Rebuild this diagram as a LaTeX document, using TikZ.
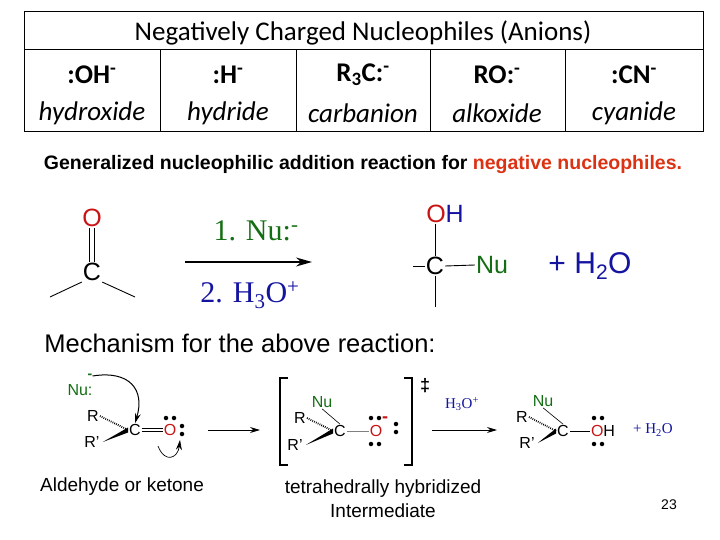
\documentclass[tikz,border=0pt]{standalone}
\usepackage{fontspec}
\setmainfont{Liberation Sans}
\newfontfamily\calfnt{Carlito}
\newfontfamily\tms{Liberation Serif}
\usetikzlibrary{arrows.meta}
\definecolor{grn}{RGB}{20,110,20}
\definecolor{blu}{RGB}{20,20,160}
\definecolor{rd}{RGB}{200,20,20}
\definecolor{org}{RGB}{220,50,20}
\begin{document}
\begin{tikzpicture}[x=1pt,y=-1pt,
 hdr/.style={font=\calfnt\bfseries\fontsize{27}{30}\selectfont},
 ent/.style={font=\calfnt\itshape\fontsize{27}{30}\selectfont},
 atom/.style={font=\fontsize{25}{28}\selectfont,inner sep=1pt},
 sm/.style={font=\fontsize{16}{18}\selectfont,inner sep=1pt},
 bond/.style={line width=0.9pt},
 dot/.style={circle,fill=black,inner sep=0pt,minimum size=4.5pt},
 rarrow/.style={line width=1.4pt,-{Stealth[length=16pt,width=9pt]}},
 marrow/.style={line width=1pt,-{Stealth[length=10pt,width=6pt]}}]
\useasboundingbox (0,0) rectangle (720,540);
% table
\draw[line width=1pt] (24,12) rectangle (703,132);
\draw[line width=1pt] (24,50) -- (703,50);
\foreach \x in {160,296,430,565} \draw[line width=1pt] (\x,50) -- (\x,132);
\node[hdr,font=\calfnt\fontsize{27}{30}\selectfont] (ttl) at (363,33) {Negatively Charged Nucleophiles (Anions)};
\node[hdr] (a1) at (92,75) {:OH\textsuperscript{-}};
\node[hdr] (a2) at (228,75) {:H\textsuperscript{-}};
\node[hdr] (a3) at (363,75) {R\textsubscript{3}C:\textsuperscript{-}};
\node[hdr] (a4) at (497,75) {RO:\textsuperscript{-}};
\node[hdr] (a5) at (634,75) {:CN\textsuperscript{-}};
\node[ent] (b1) at (92,113) {hydroxide};
\node[ent] (b2) at (228,113) {hydride};
\node[ent] (b3) at (363,113) {carbanion};
\node[ent] (b4) at (497,113) {alkoxide};
\node[ent] (b5) at (634,113) {cyanide};
\node[font=\bfseries\fontsize{19.5}{22}\selectfont] (sub) at (363,165) {Generalized nucleophilic addition reaction for \textcolor{org}{negative nucleophiles.}};
% reaction
\node[atom,text=rd] (O1) at (92,218) {O};
\node[atom] (C1) at (92,272) {C};
\draw[bond] ([xshift=-2.5]O1.south) -- ([xshift=-2.5]C1.north);
\draw[bond] ([xshift=2.5]O1.south) -- ([xshift=2.5]C1.north);
\coordinate (l1) at (50,297); \coordinate (r1) at (135,297);
\draw[bond] (C1.south west) -- (l1);
\draw[bond] (C1.south east) -- (r1);
\coordinate (ra) at (185,262); \coordinate (rb) at (312,262);
\draw[rarrow] (ra) -- (rb);
\node[font=\tms\fontsize{30}{32}\selectfont,text=grn] (nu1) at (256,231) {1. Nu:\textsuperscript{-}};
\node[font=\tms\fontsize{30}{32}\selectfont,text=blu] (h3o) at (250,295) {2. H\textsubscript{3}O\textsuperscript{+}};
\node[atom] (C2) at (435,266) {C};
\node[atom] (OH) at (445,214) {\textcolor{rd}{O}\textcolor{blu}{H}};
\node[atom,text=grn] (Nu2) at (492,265) {Nu};
\coordinate (l2) at (413,266); \coordinate (d2) at (435,307);
\draw[bond] (l2) -- (C2.west);
\draw[bond] (C2.east) -- (Nu2.west);
\draw[bond] (C2.south) -- (d2);
\draw[bond] (C2.north) -- (C2.north |- OH.south);
\node[font=\fontsize{30}{32}\selectfont,text=blu] (w1) at (590,266) {+ H\textsubscript{2}O};
\node[font=\fontsize{25.5}{28}\selectfont] (mech) at (240,343) {Mechanism for the above reaction:};
% mechanism 1
\node[sm,text=grn] (Nu3) at (80,390) {Nu:};
\node[text=grn,font=\bfseries\fontsize{14}{14}\selectfont,inner sep=0] (m3) at (90,376) {-};
\node[sm] (R3) at (93,416) {R};
\node[sm] (Rp3) at (92,442) {R'};
\node[sm] (C3) at (135,430) {C};
\node[sm,text=rd] (O3) at (170,430) {O};
\draw[dash pattern=on 0.8pt off 1.2pt,line width=1.8pt] (R3.east) -- (C3.west);
\fill ([xshift=2]Rp3.east) -- ([yshift=-2.5]C3.west) -- ([yshift=2.5]C3.west) -- cycle;
\draw[line width=0.7pt] ([yshift=-1.5]C3.east) -- ([yshift=-1.5]O3.west);
\draw[line width=0.7pt] ([yshift=1.5]C3.east) -- ([yshift=1.5]O3.west);
\node[dot] (d31) at (166,418) {}; \node[dot] (d32) at (174,418) {};
\node[dot] (d33) at (182,426) {}; \node[dot] (d34) at (182,434) {};
\draw[marrow] (m3.east) .. controls (130,370) and (145,390) .. (C3.north);
\coordinate (ca) at (158,446); \coordinate (cb) at (180,440);
\draw[marrow,line width=0.7pt] (ca) .. controls (165,464) and (178,458) .. (cb);
\coordinate (m1a) at (208,430); \coordinate (m1b) at (260,430);
\draw[marrow] (m1a) -- (m1b);
% intermediate
\draw[line width=1.2pt] (288,378) -- (280,378) -- (280,465) -- (288,465);
\draw[line width=1.2pt] (404,378) -- (412,378) -- (412,465) -- (404,465);
\node[font=\bfseries\fontsize{18}{18}\selectfont] (dag) at (425,386) {‡};
\node[sm,text=grn] (Nu4) at (322,402) {Nu};
\node[sm] (R4) at (300,418) {R};
\node[sm] (Rp4) at (295,445) {R'};
\node[sm] (C4) at (340,431) {C};
\node[sm,text=rd] (O4) at (376,431) {O};
\draw[line width=0.6pt] (Nu4.south) -- (C4.north);
\draw[dash pattern=on 0.8pt off 1.2pt,line width=1.8pt] (R4.east) -- (C4.west);
\fill ([xshift=2]Rp4.east) -- ([yshift=-2.5]C4.west) -- ([yshift=2.5]C4.west) -- cycle;
\draw[line width=0.6pt,gray] (C4.east) -- (O4.west);
\node[text=rd,font=\bfseries\fontsize{18}{18}\selectfont,inner sep=0] (m4) at (385,420) {-};
\node[dot] (d41) at (371,418) {}; \node[dot] (d42) at (379,418) {};
\node[dot] (d43) at (371,444) {}; \node[dot] (d44) at (379,444) {};
\node[dot] (d45) at (396,424) {}; \node[dot] (d46) at (396,432) {};
\node[font=\tms\fontsize{15}{17}\selectfont,text=blu] (h3o2) at (462,404) {H\textsubscript{3}O\textsuperscript{+}};
\coordinate (m2a) at (432,430); \coordinate (m2b) at (497,430);
\draw[marrow] (m2a) -- (m2b);
% product
\node[sm,text=grn] (Nu5) at (543,401) {Nu};
\node[sm] (R5) at (522,417) {R};
\node[sm] (Rp5) at (527,443) {R'};
\node[sm] (C5) at (563,431) {C};
\node[sm] (O5) at (603,431) {\textcolor{rd}{O}H};
\draw[line width=0.6pt] (Nu5.south) -- (C5.north);
\draw[dash pattern=on 0.8pt off 1.2pt,line width=1.8pt] (R5.east) -- (C5.west);
\fill ([xshift=2]Rp5.east) -- ([yshift=-2.5]C5.west) -- ([yshift=2.5]C5.west) -- cycle;
\draw[line width=0.6pt] (C5.east) -- (O5.west);
\node[dot] (d51) at (594,418) {}; \node[dot] (d52) at (602,418) {};
\node[dot] (d53) at (594,444) {}; \node[dot] (d54) at (602,444) {};
\node[font=\tms\fontsize{15}{17}\selectfont,text=blu] (w2) at (653,430) {+ H\textsubscript{2}O};
% labels
\node[font=\fontsize{19}{24}\selectfont] (lab1) at (122,487) {Aldehyde or ketone};
\node[font=\fontsize{19}{24}\selectfont,align=center] (lab2) at (383,499) {tetrahedrally hybridized\\Intermediate};
\node[font=\fontsize{14}{16}\selectfont] (pg) at (669,505) {23};
\end{tikzpicture}
\end{document}
